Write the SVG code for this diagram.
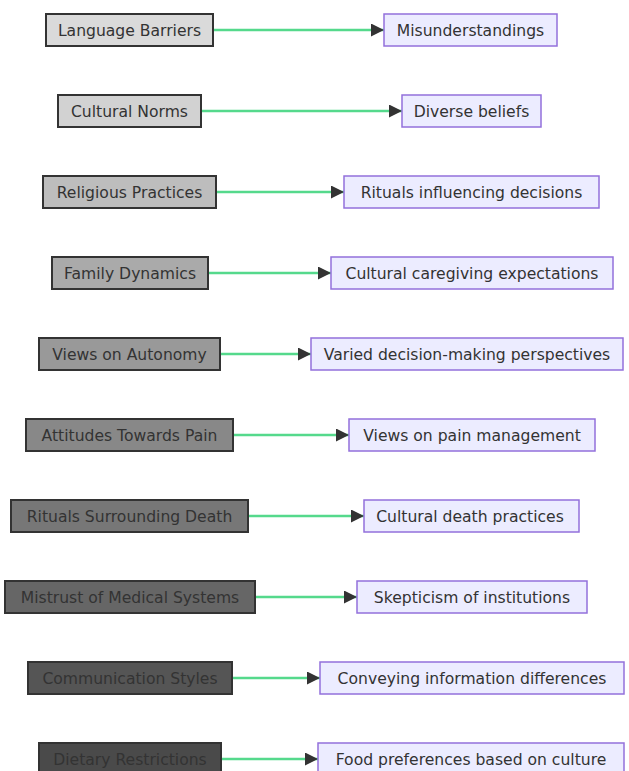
<svg xmlns="http://www.w3.org/2000/svg" width="629" height="771" viewBox="0 0 629 771">
<defs>
<marker id="ah" viewBox="0 0 13 13" refX="13" refY="6.5" markerWidth="13" markerHeight="13" markerUnits="userSpaceOnUse" orient="auto">
<path d="M0,0 L13,6.5 L0,13 Z" fill="#333333"/>
</marker>
<style>
.l rect{stroke:#333333;stroke-width:2}
.r rect{fill:#ECECFF;stroke:#9370DB;stroke-width:1.5}
text{font-family:"DejaVu Sans","Liberation Sans",sans-serif;font-size:15.6px;fill:#333333;text-anchor:middle;dominant-baseline:central}
.e{stroke:#55d98c;stroke-width:2.4;fill:none}
</style>
</defs>
<rect width="629" height="771" fill="#ffffff"/>
<g id="connectors">
<path class="e" d="M213,30 H384" marker-end="url(#ah)"/>
<path class="e" d="M201,111 H402" marker-end="url(#ah)"/>
<path class="e" d="M216,192 H344" marker-end="url(#ah)"/>
<path class="e" d="M208,273 H331" marker-end="url(#ah)"/>
<path class="e" d="M220,354 H311" marker-end="url(#ah)"/>
<path class="e" d="M233,435 H349" marker-end="url(#ah)"/>
<path class="e" d="M248,516 H364" marker-end="url(#ah)"/>
<path class="e" d="M255,597 H357" marker-end="url(#ah)"/>
<path class="e" d="M232,678 H320" marker-end="url(#ah)"/>
<path class="e" d="M221,759 H318" marker-end="url(#ah)"/>
</g>
<g id="n1" class="l"><rect x="46" y="14" width="167" height="32" fill="#dadada"/><text x="129.5" y="31">Language Barriers</text></g>
<g id="m1" class="r"><rect x="384" y="14" width="173" height="32"/><text x="470.5" y="31">Misunderstandings</text></g>
<g id="n2" class="l"><rect x="58" y="95" width="143" height="32" fill="#d2d2d2"/><text x="129.5" y="112">Cultural Norms</text></g>
<g id="m2" class="r"><rect x="402" y="95" width="139" height="32"/><text x="471.5" y="112">Diverse beliefs</text></g>
<g id="n3" class="l"><rect x="43" y="176" width="173" height="32" fill="#bdbdbd"/><text x="129.5" y="193">Religious Practices</text></g>
<g id="m3" class="r"><rect x="344" y="176" width="255" height="32"/><text x="471.5" y="193">Rituals influencing decisions</text></g>
<g id="n4" class="l"><rect x="52" y="257" width="156" height="32" fill="#aaaaaa"/><text x="130" y="274">Family Dynamics</text></g>
<g id="m4" class="r"><rect x="331" y="257" width="282" height="32"/><text x="472" y="274">Cultural caregiving expectations</text></g>
<g id="n5" class="l"><rect x="39" y="338" width="181" height="32" fill="#999999"/><text x="129.5" y="355">Views on Autonomy</text></g>
<g id="m5" class="r"><rect x="311" y="338" width="312" height="32"/><text x="467" y="355">Varied decision-making perspectives</text></g>
<g id="n6" class="l"><rect x="26" y="419" width="207" height="32" fill="#888888"/><text x="129.5" y="436">Attitudes Towards Pain</text></g>
<g id="m6" class="r"><rect x="349" y="419" width="246" height="32"/><text x="472" y="436">Views on pain management</text></g>
<g id="n7" class="l"><rect x="11" y="500" width="237" height="32" fill="#777777"/><text x="129.5" y="517">Rituals Surrounding Death</text></g>
<g id="m7" class="r"><rect x="364" y="500" width="215" height="32"/><text x="470" y="517">Cultural death practices</text></g>
<g id="n8" class="l"><rect x="5" y="581" width="250" height="32" fill="#666666"/><text x="130" y="598">Mistrust of Medical Systems</text></g>
<g id="m8" class="r"><rect x="357" y="581" width="230" height="32"/><text x="472" y="598">Skepticism of institutions</text></g>
<g id="n9" class="l"><rect x="28" y="662" width="204" height="32" fill="#555555"/><text x="130" y="679">Communication Styles</text></g>
<g id="m9" class="r"><rect x="320" y="662" width="304" height="32"/><text x="472" y="679">Conveying information differences</text></g>
<g id="n10" class="l"><rect x="39" y="743" width="182" height="32" fill="#4a4a4a"/><text x="130" y="760">Dietary Restrictions</text></g>
<g id="m10" class="r"><rect x="318" y="743" width="306" height="32"/><text x="471" y="760">Food preferences based on culture</text></g>
</svg>
